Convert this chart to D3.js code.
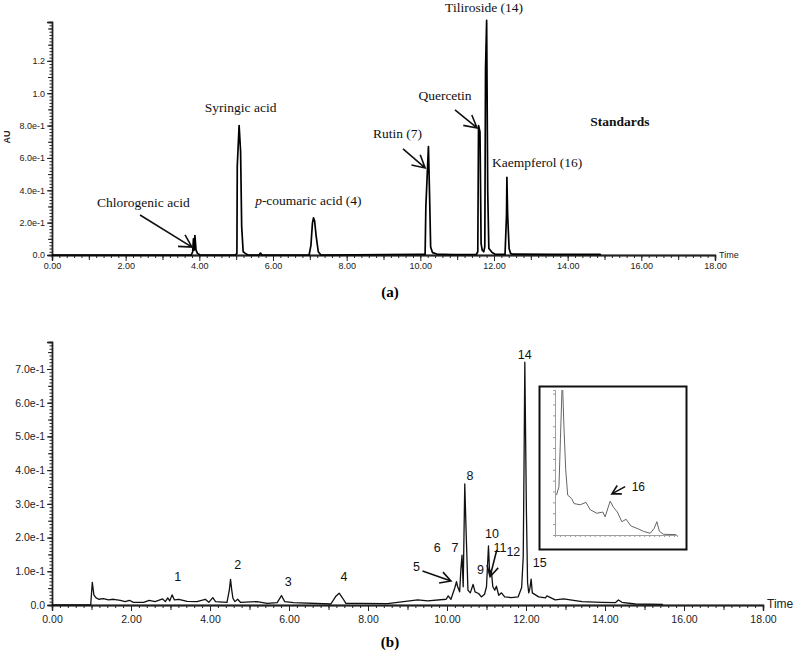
<!DOCTYPE html>
<html>
<head>
<meta charset="utf-8">
<script src="https://cdn.jsdelivr.net/npm/d3@7"></script>
<style>
  body { margin: 0; background: #fff; }
  svg { display: block; }
</style>
</head>
<body>
<svg id="chart" width="793" height="652"></svg>
<script>
// ---- data ----
// (a) standards chromatogram
const stdTime = [0, 3.78, 3.82, 3.84, 3.86, 3.88, 3.91, 3.95, 4.02,
  4.98, 5.02, 5.03, 5.08, 5.12, 5.15, 5.19, 5.25, 5.32, 5.62, 5.66, 5.70,
  6.98, 7.03, 7.07, 7.10, 7.13, 7.17, 7.23, 7.30,
  10.0, 10.13, 10.15, 10.22, 10.25, 10.28, 10.33, 10.45, 10.62, 10.9,
  11.52, 11.56, 11.58, 11.62, 11.65, 11.68, 11.72, 11.75, 11.77, 11.80, 11.83, 11.86, 11.90, 11.95, 12.02,
  12.30, 12.34, 12.35, 12.37, 12.41, 12.45, 12.50, 13.5, 14.2, 14.88, 14.9];
const stdAU = [0, 0, 0.02, 0.10, 0.03, 0.12, 0.03, 0.01, 0,
  0, 0.01, 0.55, 0.80, 0.64, 0.175, 0.02, 0.01, 0, 0, 0.012, 0,
  0, 0.06, 0.195, 0.23, 0.21, 0.12, 0.02, 0,
  0.004, 0.004, 0.30, 0.67, 0.38, 0.05, 0.015, 0.006, 0.004, 0.002,
  0.003, 0.02, 0.80, 0.76, 0.07, 0.03, 0.02, 0.05, 1.15, 1.45, 0.39, 0.04, 0.03, 0.015, 0.006,
  0.004, 0.25, 0.48, 0.25, 0.04, 0.01, 0.005, 0.004, 0.004, 0.004, 0];

// (b) sample chromatogram
const sampleTime = [0, 0.98, 1.02, 1.06, 1.11, 1.18, 1.30, 1.43, 1.56, 1.73, 1.85, 1.96, 2.06,
  2.32, 2.46, 2.61, 2.80, 2.87, 2.93, 2.98, 3.04, 3.10, 3.21, 3.42, 3.67, 3.88, 3.97, 4.07,
  4.14, 4.43, 4.49, 4.52, 4.55, 4.58, 4.63, 4.70, 4.77, 5.19, 5.45, 5.70, 5.81, 5.89, 6.12,
  7.06, 7.18, 7.27, 7.36, 7.44, 7.82, 8.49, 9.26, 9.51, 9.98, 10.03, 10.10, 10.20, 10.24,
  10.27, 10.32, 10.35, 10.38, 10.41, 10.45, 10.48, 10.53, 10.59, 10.66, 10.71, 10.80,
  10.87, 10.95, 11.00, 11.05, 11.08, 11.12, 11.16, 11.21, 11.25, 11.31, 11.38, 11.46,
  11.63, 11.80, 11.89, 11.93, 11.95, 11.97, 12.01, 12.04, 12.07, 12.10, 12.13, 12.16,
  12.32, 12.49, 12.53, 12.74, 12.95, 13.42, 13.92, 14.26, 14.34, 14.43, 14.77, 15.47];
const sampleAU = [0, 0, 0.067, 0.03, 0.022, 0.017, 0.019, 0.015, 0.017, 0.014, 0.010, 0.014, 0.008,
  0.008, 0.014, 0.010, 0.018, 0.010, 0.021, 0.012, 0.030, 0.015, 0.017, 0.011, 0.010, 0.017, 0.008, 0.022,
  0.010, 0.008, 0.045, 0.076, 0.045, 0.020, 0.010, 0.017, 0.008, 0.010, 0.005, 0.007, 0.028, 0.010, 0.007,
  0.003, 0.025, 0.035, 0.020, 0.005, 0.005, 0.004, 0.015, 0.012, 0.017, 0.027, 0.017, 0.052, 0.069,
  0.054, 0.039, 0.104, 0.148, 0.054, 0.359, 0.233, 0.044, 0.036, 0.061, 0.039, 0.034,
  0.024, 0.032, 0.054, 0.175, 0.094, 0.104, 0.054, 0.044, 0.056, 0.029, 0.036, 0.024,
  0.022, 0.024, 0.052, 0.143, 0.41, 0.72, 0.28, 0.066, 0.036, 0.05, 0.077, 0.036,
  0.024, 0.021, 0.027, 0.015, 0.018, 0.010, 0.008, 0.007, 0.015, 0.008, 0.003, 0.002];

// (b) inset: zoom on the tail after peak 14
const insetTime = [11.915, 11.94, 11.955, 11.974, 11.99, 12.008, 12.028, 12.069, 12.092, 12.153,
  12.213, 12.254, 12.321, 12.382, 12.405, 12.456, 12.489, 12.529, 12.574, 12.617, 12.665,
  12.741, 12.792, 12.86, 12.90, 12.927, 12.953, 12.994, 13.122];
const insetAU = [0.033, 0.040, 0.080, 0.130, 0.09, 0.054, 0.033, 0.030, 0.026, 0.025,
  0.027, 0.021, 0.018, 0.019, 0.015, 0.028, 0.023, 0.019, 0.011, 0.013, 0.0075,
  0.005, 0.003, 0.0014, 0.0055, 0.011, 0.003, 0.0006, 0.0003];

const timeTicks = [0, 2, 4, 6, 8, 10, 12, 14, 16, 18];
const timeLabels = ["0.00", "2.00", "4.00", "6.00", "8.00", "10.00", "12.00", "14.00", "16.00", "18.00"];
const stdYTicks = [0, 0.2, 0.4, 0.6, 0.8, 1.0, 1.2];
const stdYLabels = ["0.0", "2.0e-1", "4.0e-1", "6.0e-1", "8.0e-1", "1.0", "1.2"];
const sampleYTicks = [0, 0.1, 0.2, 0.3, 0.4, 0.5, 0.6, 0.7];
const sampleYLabels = ["0.0", "1.0e-1", "2.0e-1", "3.0e-1", "4.0e-1", "5.0e-1", "6.0e-1", "7.0e-1"];

// annotations, placed in data units
const stdNotes = [
  { text: "Tiliroside (14)", t: 11.73, v: 1.534 },
  { text: "Quercetin", t: 10.67, v: 0.99 },
  { text: "Rutin (7)", t: 9.38, v: 0.755 },
  { text: "Kaempferol (16)", t: 13.17, v: 0.575 },
  { text: "Syringic acid", t: 5.12, v: 0.915 },
  { text: "-coumaric acid (4)", t: 6.96, v: 0.34, italic: "p" },
  { text: "Chlorogenic acid", t: 2.48, v: 0.328 },
  { text: "Standards", t: 15.42, v: 0.83, bold: true }
];
const stdArrows = [
  { t1: 2.39, v1: 0.247, t2: 3.80, v2: 0.049 },
  { t1: 9.53, v1: 0.656, t2: 10.13, v2: 0.538 },
  { t1: 10.94, v1: 0.897, t2: 11.54, v2: 0.785 }
];
const sampleNotes = [
  { text: "1", t: 3.18, v: 0.083 }, { text: "2", t: 4.70, v: 0.119 },
  { text: "3", t: 5.98, v: 0.069 }, { text: "4", t: 7.39, v: 0.082 },
  { text: "5", t: 9.23, v: 0.112 }, { text: "6", t: 9.75, v: 0.170 },
  { text: "7", t: 10.20, v: 0.170 }, { text: "8", t: 10.58, v: 0.383 },
  { text: "9", t: 10.85, v: 0.104 }, { text: "10", t: 11.14, v: 0.210 },
  { text: "11", t: 11.34, v: 0.168 }, { text: "12", t: 11.68, v: 0.156 },
  { text: "14", t: 11.97, v: 0.741 }, { text: "15", t: 12.35, v: 0.124 }
];
const sampleArrows = [
  { t1: 9.38, v1: 0.101, t2: 10.10, v2: 0.071 },
  { t1: 11.26, v1: 0.163, t2: 11.09, v2: 0.084 }
];
const insetNote = { text: "16", t: 12.74, v: 0.040 };
const insetArrow = { t1: 12.607, v1: 0.040, t2: 12.473, v2: 0.034 };

// ---- drawing ----
const svg = d3.select("#chart");
const serif = "'Liberation Serif', 'Times New Roman', serif";
const sans = "'Liberation Sans', Arial, sans-serif";

function arrow(g, x1, y1, x2, y2, color, len) {
  const a = Math.atan2(y1 - y2, x1 - x2);
  const s = 0.5;
  const p = `M${x1},${y1}L${x2},${y2}` +
    `M${x2 + len * Math.cos(a + s)},${y2 + len * Math.sin(a + s)}L${x2},${y2}` +
    `L${x2 + len * Math.cos(a - s)},${y2 + len * Math.sin(a - s)}`;
  g.append("path").attr("d", p).attr("fill", "none")
    .attr("stroke", color).attr("stroke-width", 1.6);
}

function drawAxes(g, x, y, opt) {
  const tick = (sel) => {
    sel.select(".domain").attr("stroke", "#222");
    sel.selectAll("line").attr("stroke", "#222");
  };
  // minor, medium, major y ticks
  g.append("g").attr("transform", `translate(${x.range()[0]},0)`)
    .call(d3.axisLeft(y).tickValues(d3.range(0, y.domain()[1], opt.yMinor)).tickSize(2.5).tickFormat(""))
    .call(tick);
  g.append("g").attr("transform", `translate(${x.range()[0]},0)`)
    .call(d3.axisLeft(y).tickValues(d3.range(0, y.domain()[1], opt.yMinor * 5)).tickSize(4).tickFormat(""))
    .call(tick);
  const ya = g.append("g").attr("transform", `translate(${x.range()[0]},0)`)
    .call(d3.axisLeft(y).tickValues(opt.yTicks).tickSize(5).tickPadding(2)
      .tickFormat((d, i) => opt.yLabels[i]))
    .call(tick);
  ya.selectAll("text").attr("font-family", sans).attr("font-size", opt.fs)
    .attr("fill", "#222");

  const y0 = y(0);
  g.append("g").attr("transform", `translate(0,${y0})`)
    .call(d3.axisBottom(x).tickValues(d3.range(0, 18.01, 0.2)).tickSize(3).tickFormat(""))
    .call(tick);
  g.append("g").attr("transform", `translate(0,${y0})`)
    .call(d3.axisBottom(x).tickValues(d3.range(1, 18, 2)).tickSize(5).tickFormat(""))
    .call(tick);
  const xa = g.append("g").attr("transform", `translate(0,${y0})`)
    .call(d3.axisBottom(x).tickValues(timeTicks).tickSize(6).tickPadding(opt.xPad)
      .tickFormat((d, i) => timeLabels[i]))
    .call(tick);
  xa.selectAll("text").attr("font-family", sans).attr("font-size", opt.xfs)
    .attr("fill", "#222");
  g.selectAll(".domain").attr("stroke-width", 1.3);

  g.append("text").attr("x", x.range()[1] + 4).attr("y", y0 + 3)
    .attr("font-family", sans).attr("font-size", opt.timeFs).attr("fill", "#222")
    .text("Time");
}

function drawNotes(g, notes, x, y, font, size) {
  notes.forEach((n) => {
    const t = g.append("text").attr("x", x(n.t)).attr("y", y(n.v))
      .attr("text-anchor", "middle").attr("dominant-baseline", "central")
      .attr("font-family", n.bold ? serif : font).attr("font-size", size)
      .attr("font-weight", n.bold ? "bold" : "normal").attr("fill", "#111");
    if (n.italic) t.append("tspan").attr("font-style", "italic").text(n.italic);
    t.append("tspan").text(n.text);
  });
}

// (a) standards
{
  const x = d3.scaleLinear().domain([0, 18]).range([52, 715]);
  const y = d3.scaleLinear().domain([0, 1.44]).range([255, 22]);
  const g = svg.append("g");
  drawAxes(g, x, y, { yTicks: stdYTicks, yLabels: stdYLabels, yMinor: 0.02, fs: 9, xfs: 9, xPad: 2, timeFs: 9 });
  const line = d3.line().x((d) => x(d[0])).y((d) => y(d[1]));
  g.append("path").datum(d3.zip(stdTime, stdAU)).attr("d", line)
    .attr("fill", "none").attr("stroke", "#000").attr("stroke-width", 1.7)
    .attr("stroke-linejoin", "round");
  drawNotes(g, stdNotes, x, y, serif, 13.5);
  stdArrows.forEach((a) => arrow(g, x(a.t1), y(a.v1), x(a.t2), y(a.v2), "#111", 14));
  g.append("text").attr("x", 390).attr("y", 297).attr("text-anchor", "middle")
    .attr("font-family", serif).attr("font-weight", "bold").attr("font-size", 15).text("(a)");
  g.append("text").attr("transform", "translate(10,137) rotate(-90)").attr("text-anchor", "middle")
    .attr("font-family", sans).attr("font-weight", "bold").attr("font-size", 9).attr("fill", "#222")
    .text("AU");
}

// (b) sample
{
  const x = d3.scaleLinear().domain([0, 18]).range([52, 763]);
  const y = d3.scaleLinear().domain([0, 0.78]).range([605, 342]);
  const g = svg.append("g");
  drawAxes(g, x, y, { yTicks: sampleYTicks, yLabels: sampleYLabels, yMinor: 0.01, fs: 10.5, xfs: 10.5, xPad: 5, timeFs: 12 });
  const line = d3.line().x((d) => x(d[0])).y((d) => y(d[1]));
  g.append("path").datum(d3.zip(sampleTime, sampleAU)).attr("d", line)
    .attr("fill", "none").attr("stroke", "#111").attr("stroke-width", 1.3)
    .attr("stroke-linejoin", "round");
  drawNotes(g, sampleNotes, x, y, sans, 12.5);
  sampleArrows.forEach((a) => arrow(g, x(a.t1), y(a.v1), x(a.t2), y(a.v2), "#111", 12));
  g.append("text").attr("x", 641).attr("y", 415).attr("text-anchor", "middle")
    .attr("font-family", serif).attr("font-weight", "bold").attr("font-size", 13).text("Sample");
  g.append("text").attr("x", 390).attr("y", 647).attr("text-anchor", "middle")
    .attr("font-family", serif).attr("font-weight", "bold").attr("font-size", 15).text("(b)");

  // inset
  const ix = d3.scaleLinear().domain([11.90, 13.13]).range([555, 677]);
  const iy = d3.scaleLinear().domain([0, 0.12]).range([535, 390]);
  const ig = g.append("g");
  ig.append("rect").attr("x", 539.5).attr("y", 386.5).attr("width", 147).attr("height", 163)
    .attr("fill", "#fff").attr("stroke", "#111").attr("stroke-width", 2);
  ig.append("clipPath").attr("id", "insetClip").append("rect")
    .attr("x", 555).attr("y", 390).attr("width", 122).attr("height", 145);
  const grey = (sel) => {
    sel.select(".domain").attr("stroke", "#888");
    sel.selectAll("line").attr("stroke", "#999");
  };
  ig.append("g").attr("transform", "translate(555,0)")
    .call(d3.axisLeft(iy).tickValues(d3.range(0, 0.121, 0.009)).tickSize(2).tickFormat(""))
    .call(grey);
  ig.append("g").attr("transform", "translate(0,535)")
    .call(d3.axisBottom(ix).tickValues(d3.range(11.90, 13.13, 0.05)).tickSize(2).tickFormat(""))
    .call(grey);
  ig.selectAll(".domain").attr("stroke-width", 0.8);
  const iline = d3.line().x((d) => ix(d[0])).y((d) => iy(d[1]));
  ig.append("path").datum(d3.zip(insetTime, insetAU)).attr("d", iline)
    .attr("clip-path", "url(#insetClip)")
    .attr("fill", "none").attr("stroke", "#666").attr("stroke-width", 1);
  ig.append("text").attr("x", ix(insetNote.t)).attr("y", iy(insetNote.v))
    .attr("text-anchor", "middle").attr("dominant-baseline", "central")
    .attr("font-family", sans).attr("font-size", 12).attr("fill", "#111").text(insetNote.text);
  arrow(ig, ix(insetArrow.t1), iy(insetArrow.v1), ix(insetArrow.t2), iy(insetArrow.v2), "#111", 10);
}
</script>
</body>
</html>
